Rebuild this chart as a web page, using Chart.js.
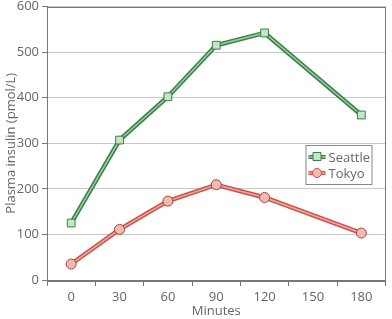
<!DOCTYPE html>
<html>
<head>
<meta charset="utf-8">
<script src="https://cdn.jsdelivr.net/npm/chart.js@4.4.1/dist/chart.umd.min.js"></script>
<style>
  html, body { margin: 0; padding: 0; background: #fff; }
  #wrap { width: 392px; height: 319px; }
</style>
</head>
<body>
<div id="wrap"><canvas id="insulin"></canvas></div>
<script>
const minutes = ['0', '30', '60', '90', '120', '150', '180'];
const seattle = [125, 307, 402, 515, 542, null, 362];
const tokyo = [35, 111, 173, 209, 181, null, 103];

const font = "'Open Sans', 'Noto Sans', sans-serif";
const textGrey = '#666';

const frame = {
    id: 'frame',
    afterDraw(chart) {
        const a = chart.chartArea;
        const ctx = chart.ctx;
        ctx.save();
        ctx.strokeStyle = '#777';
        ctx.lineWidth = 1;
        ctx.strokeRect(Math.round(a.left) + 0.5, Math.round(a.top) + 0.5,
            Math.round(a.right - a.left) - 1, Math.round(a.bottom - a.top));
        ctx.restore();
    }
};

const legendBox = {
    id: 'legendBox',
    afterDraw(chart) {
        const ctx = chart.ctx;
        const a = chart.chartArea;
        const x = a.right - 80, y = 145, w = 66, h = 39;
        ctx.save();
        ctx.fillStyle = '#fff';
        ctx.fillRect(x, y, w, h);
        ctx.strokeStyle = '#888';
        ctx.lineWidth = 1;
        ctx.strokeRect(x + 0.5, y + 0.5, w, h);
        const items = [
            { label: 'Seattle', dark: '#3b7f48', light: '#96cf9f', fill: '#c3e6c3', style: 'rect', y: y + 12 },
            { label: 'Tokyo', dark: '#c9544c', light: '#f2a79e', fill: '#f7b8b0', style: 'circle', y: y + 28 }
        ];
        items.forEach(it => {
            ctx.strokeStyle = it.dark;
            ctx.lineWidth = 4;
            ctx.beginPath(); ctx.moveTo(x + 3, it.y); ctx.lineTo(x + 20, it.y); ctx.stroke();
            ctx.strokeStyle = it.light;
            ctx.lineWidth = 1.5;
            ctx.beginPath(); ctx.moveTo(x + 3, it.y); ctx.lineTo(x + 20, it.y); ctx.stroke();
            ctx.fillStyle = it.fill;
            ctx.strokeStyle = it.dark;
            ctx.lineWidth = 1;
            ctx.beginPath();
            if (it.style === 'rect') ctx.rect(x + 7.5, it.y - 4.5, 8, 8);
            else ctx.arc(x + 11.5, it.y, 4.5, 0, Math.PI * 2);
            ctx.fill(); ctx.stroke();
            ctx.fillStyle = textGrey;
            ctx.font = '13px ' + font;
            ctx.textBaseline = 'middle';
            ctx.fillText(it.label, x + 23, it.y + 1);
        });
        ctx.restore();
    }
};

const config = {
    type: 'line',
    data: {
        labels: minutes,
        datasets: [
            {
                data: seattle, borderColor: '#3b7f48', borderWidth: 4.5,
                pointRadius: 0, spanGaps: true, order: 4
            },
            {
                data: seattle, borderColor: '#96cf9f', borderWidth: 1.5,
                pointStyle: 'rect', pointRadius: 5.5, pointBackgroundColor: '#c3e6c3',
                pointBorderColor: '#3b7f48', pointBorderWidth: 1, spanGaps: true, order: 3
            },
            {
                data: tokyo, borderColor: '#c9544c', borderWidth: 4.5,
                pointRadius: 0, spanGaps: true, order: 2
            },
            {
                data: tokyo, borderColor: '#f2a79e', borderWidth: 1.5,
                pointStyle: 'circle', pointRadius: 5, pointBackgroundColor: '#f7b8b0',
                pointBorderColor: '#a8423c', pointBorderWidth: 1, spanGaps: true, order: 1
            }
        ]
    },
    options: {
        responsive: true,
        maintainAspectRatio: false,
        animation: false,
        events: [],
        layout: { padding: { top: 0, right: 1, left: 0, bottom: 0 } },
        plugins: {
            legend: { display: false },
            tooltip: { enabled: false }
        },
        scales: {
            x: {
                offset: true,
                grid: { offset: true, drawOnChartArea: false, drawTicks: true, tickLength: 6, color: '#777' },
                border: { color: '#777' },
                ticks: { color: textGrey, font: { family: font, size: 13 }, padding: 3, maxRotation: 0 },
                title: { display: true, text: 'Minutes', color: textGrey, font: { family: font, size: 13 }, padding: { top: 0, bottom: 0 } },
                afterFit(s) { s.height = 39; }
            },
            y: {
                min: 0, max: 600,
                ticks: { stepSize: 100, color: textGrey, font: { family: font, size: 13 }, padding: 3 },
                grid: { color: '#c8c8c8', tickLength: 5, tickColor: '#777' },
                border: { color: '#777' },
                title: { display: true, text: 'Plasma insulin (pmol/L)', color: textGrey, font: { family: font, size: 13 }, padding: { top: 3, bottom: 0 } },
                afterFit(s) { s.width = 47; s.paddingTop = 6; }
            }
        }
    },
    plugins: [frame, legendBox]
};

new Chart(document.getElementById('insulin'), config);
</script>
</body>
</html>
